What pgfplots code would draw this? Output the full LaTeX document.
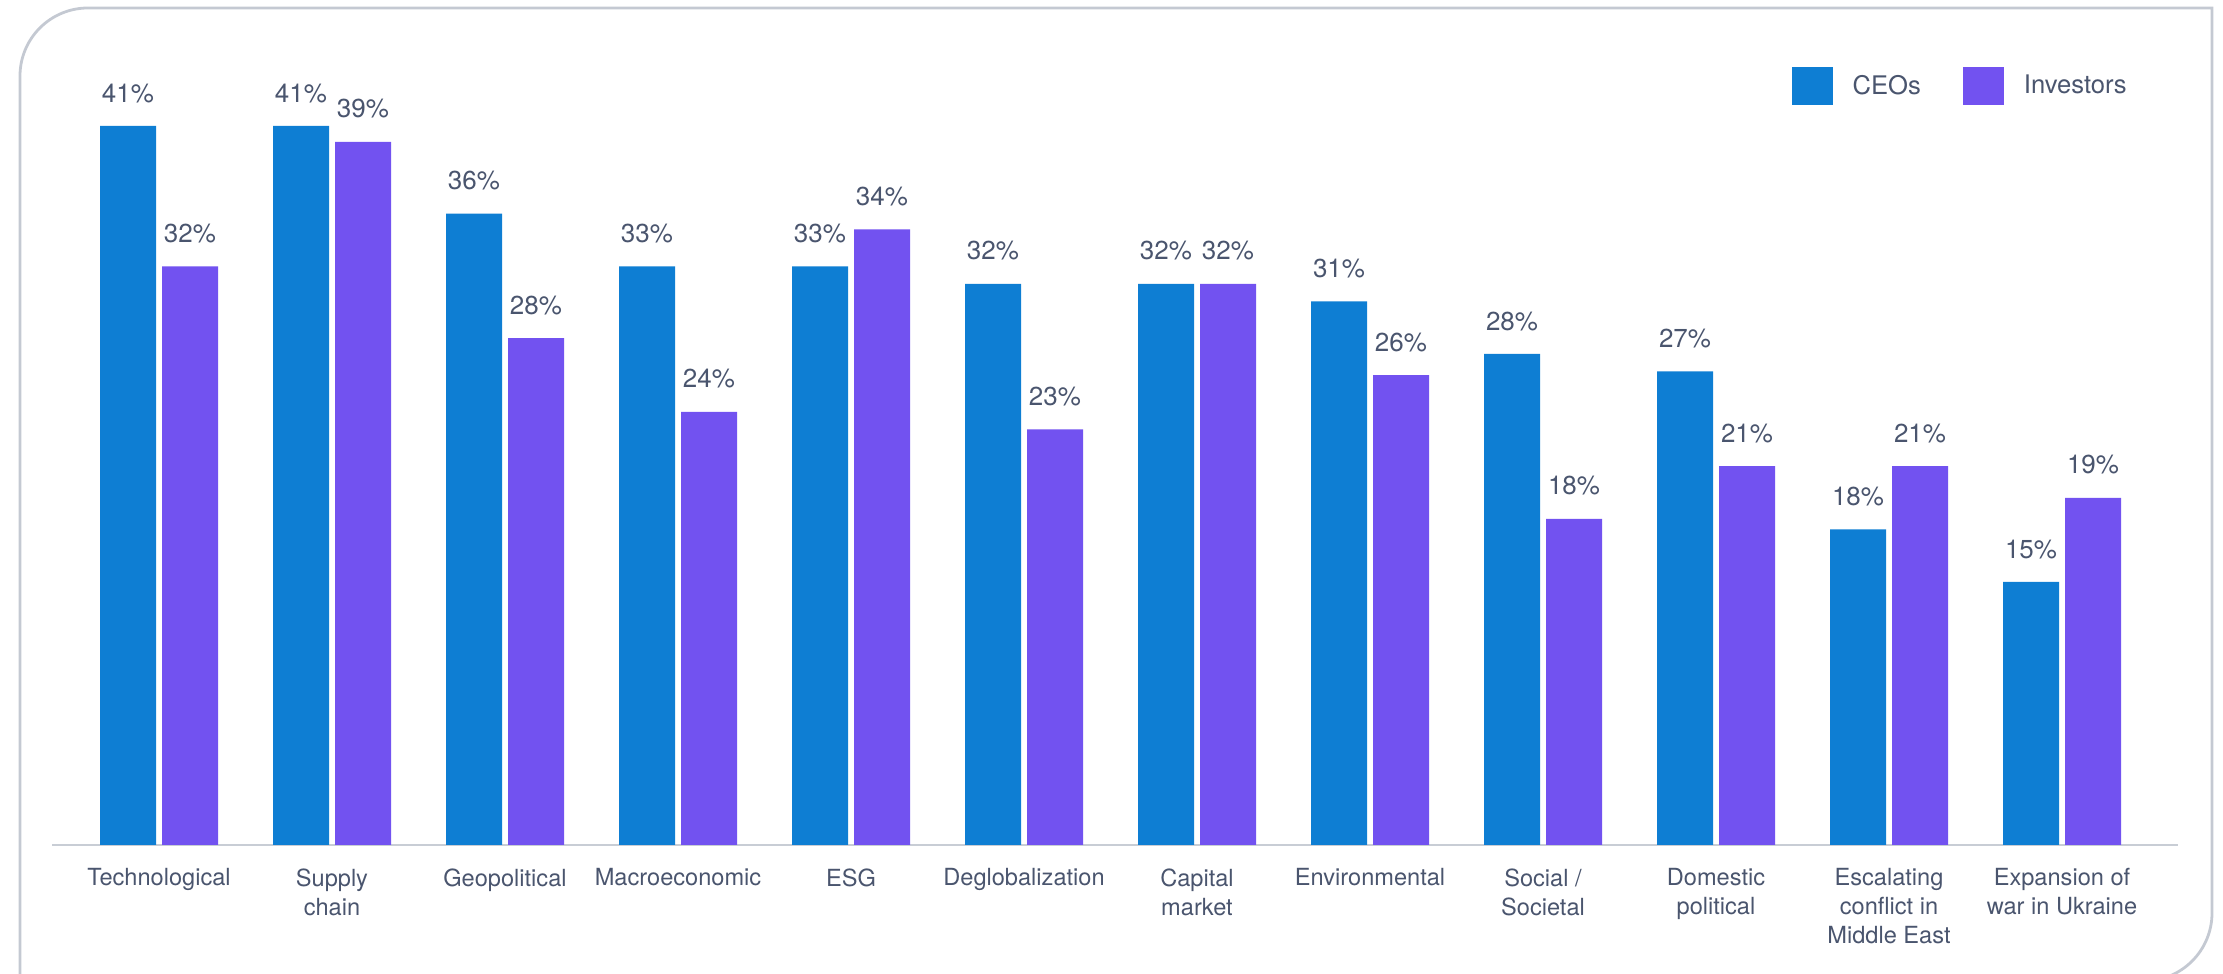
\documentclass[border=0pt]{standalone}
\usepackage{fontspec}
\setmainfont{TeX Gyre Heros}
\usepackage{pgfplots}
\pgfplotsset{compat=1.18}
\usepackage{pgfplotstable}

\definecolor{ceo}{HTML}{0E7ED3}
\definecolor{inv}{HTML}{7252F0}
\definecolor{txt}{HTML}{4A556E}
\definecolor{cardline}{HTML}{C4C9D2}
\definecolor{axisgray}{HTML}{C8CDD5}

% bar heights as drawn, labels as printed
\pgfplotstableread{
x  ceo  ceol inv  invl
0  41.0 41   33.0 32
1  41.0 41   40.1 39
2  36.0 36   28.9 28
3  33.0 33   24.7 24
4  33.0 33   35.1 34
5  32.0 32   23.7 23
6  32.0 32   32.0 32
7  31.0 31   26.8 26
8  28.0 28   18.6 18
9  27.0 27   21.6 21
10 18.0 18   21.6 21
11 15.0 15   19.8 19
}\risks

\begin{document}
\begin{tikzpicture}
\useasboundingbox (0,0) rectangle (1111.5pt,487pt);
\clip (0,0) rectangle (1111.5pt,487pt);
% card outline
\draw[cardline, line width=1.4pt]
  (10pt,-20pt) -- (10pt,449pt) arc[start angle=180, end angle=90, radius=34pt]
  -- (1106pt,483pt) -- (1106pt,30.5pt) arc[start angle=0, end angle=-90, radius=34pt]
  -- (10pt,-3.5pt);

\begin{axis}[
    at={(26pt,64.5pt)}, anchor=south west,
    x=86.5pt, y=8.7685pt,
    xmin=-0.6185, xmax=11.673,
    ymin=0, ymax=45,
    ybar=3pt, bar width=28pt,
    axis x line*=bottom,
    axis y line=none,
    x axis line style={draw=axisgray, line width=0.8pt},
    ytick=\empty,
    xtick={0,...,11},
    major tick length=0pt,
    xticklabels={Technological, {Supply\\chain}, Geopolitical, Macroeconomic,
      ESG, Deglobalization, {Capital\\market}, Environmental, {Social /\\Societal},
      {Domestic\\political}, {Escalating\\conflict in\\Middle East},
      {Expansion of\\war in Ukraine}},
    xticklabel style={font=\fontsize{11.8}{14.5}\selectfont, text=txt,
      align=center, anchor=north, inner sep=0pt, yshift=-11.5pt},
    point meta=explicit symbolic,
    nodes near coords={\pgfplotspointmeta\%},
    every node near coord/.append style={font=\fontsize{13}{15}\selectfont,
      text=txt, inner sep=0pt, anchor=south, yshift=11.5pt},
    clip=false,
    legend columns=2,
    legend image code/.code={\fill[#1] (0pt,-9.5pt) rectangle (20.5pt,9.5pt);},
    legend style={at={(rel axis cs:0.8179,0.9618)}, anchor=west,
      draw=none, fill=none, inner sep=0pt,
      font=\fontsize{12.8}{15}\selectfont, text=txt,
      column sep=8pt,
      /tikz/every even column/.append style={column sep=19pt}},
  ]
  \addplot[fill=ceo, draw=none] table[x=x, y=ceo, meta=ceol] {\risks};
  \addplot[fill=inv, draw=none] table[x=x, y=inv, meta=invl] {\risks};
  \legend{CEOs, Investors}
\end{axis}
\end{tikzpicture}
\end{document}
